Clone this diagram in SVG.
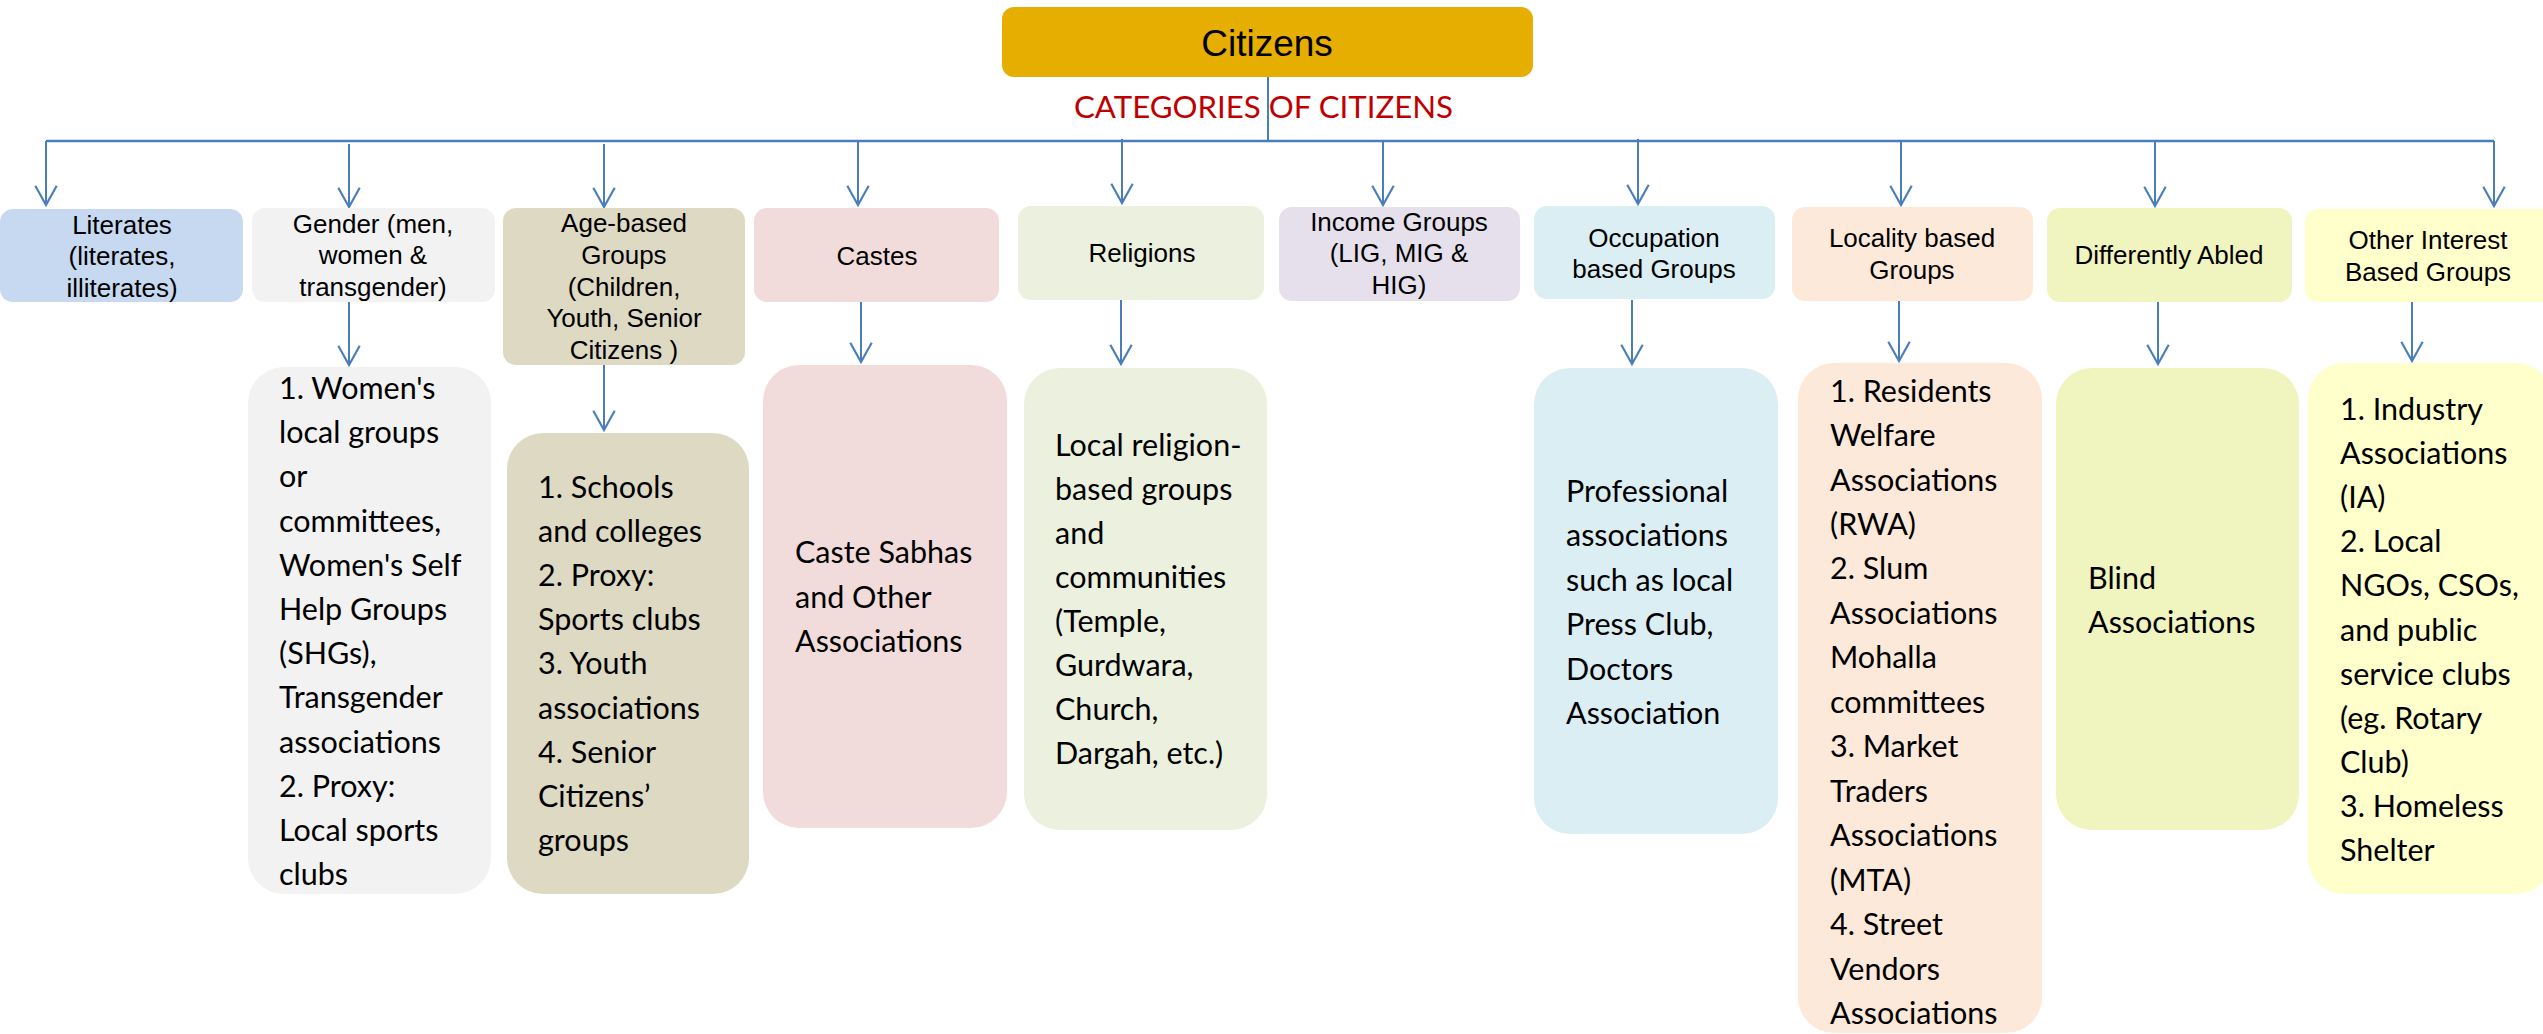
<svg xmlns="http://www.w3.org/2000/svg" width="2543" height="1034" viewBox="0 0 2543 1034">
<style>
.top{font-family:"Liberation Sans",Arial,sans-serif;font-size:26px;fill:#000;text-anchor:middle}
.sub{font-family:Lato,"Open Sans",sans-serif;font-size:30.5px;fill:#000}
.conn{stroke:#4A7EBB;stroke-width:2;fill:none}
.bus{stroke:#4A7EBB;stroke-width:2.5;fill:none}
</style>
<defs>
<marker id="ah" markerUnits="userSpaceOnUse" markerWidth="30" markerHeight="30" viewBox="-22 -14 26 28" refX="0" refY="0" orient="auto" overflow="visible">
<path d="M-18,-10 L0,0 L-18,10" fill="none" stroke="#4A7EBB" stroke-width="2"/>
</marker>
</defs>
<rect width="2543" height="1034" fill="#fff"/>

<g id="connectors">
<line class="conn" x1="1268" y1="77" x2="1268" y2="141"/>
<line class="bus" x1="46" y1="141" x2="2494" y2="141"/>
<line class="conn" x1="46" y1="141" x2="46" y2="205" marker-end="url(#ah)"/>
<line class="conn" x1="349" y1="144" x2="349" y2="207" marker-end="url(#ah)"/>
<line class="conn" x1="604" y1="144" x2="604" y2="207" marker-end="url(#ah)"/>
<line class="conn" x1="858" y1="142" x2="858" y2="205" marker-end="url(#ah)"/>
<line class="conn" x1="1122" y1="139" x2="1122" y2="203" marker-end="url(#ah)"/>
<line class="conn" x1="1383" y1="142" x2="1383" y2="205" marker-end="url(#ah)"/>
<line class="conn" x1="1638" y1="139" x2="1638" y2="204" marker-end="url(#ah)"/>
<line class="conn" x1="1901" y1="142" x2="1901" y2="205" marker-end="url(#ah)"/>
<line class="conn" x1="2155" y1="142" x2="2155" y2="206" marker-end="url(#ah)"/>
<line class="conn" x1="2494" y1="141" x2="2494" y2="206" marker-end="url(#ah)"/>

<line class="conn" x1="349" y1="302" x2="349" y2="365" marker-end="url(#ah)"/>
<line class="conn" x1="604" y1="365" x2="604" y2="430" marker-end="url(#ah)"/>
<line class="conn" x1="861" y1="300" x2="861" y2="362" marker-end="url(#ah)"/>
<line class="conn" x1="1121" y1="300" x2="1121" y2="364" marker-end="url(#ah)"/>
<line class="conn" x1="1632" y1="300" x2="1632" y2="364" marker-end="url(#ah)"/>
<line class="conn" x1="1899" y1="301" x2="1899" y2="361" marker-end="url(#ah)"/>
<line class="conn" x1="2158" y1="302" x2="2158" y2="364" marker-end="url(#ah)"/>
<line class="conn" x1="2412" y1="302" x2="2412" y2="361" marker-end="url(#ah)"/>
</g>

<g id="citizens">
<rect x="1002" y="7" width="531" height="70" rx="12" fill="#E6AE00"/>
<text x="1267" y="56" style="font-family:'Liberation Sans',Arial,sans-serif;font-size:37px;text-anchor:middle">Citizens</text>
</g>
<text id="categories-label" x="1074" y="118" textLength="379" lengthAdjust="spacingAndGlyphs" style="font-family:Lato,'Open Sans',sans-serif;font-size:31px;fill:#C00000">CATEGORIES OF CITIZENS</text>

<g id="literates">
<rect x="0" y="209" width="243" height="93" rx="13" fill="#C6D9F1"/>
<text class="top"><tspan x="122" y="234">Literates</tspan><tspan x="122" y="265">(literates,</tspan><tspan x="122" y="297">illiterates)</tspan></text>
</g>
<g id="gender">
<rect x="252" y="208" width="243" height="94" rx="13" fill="#F2F2F2"/>
<text class="top"><tspan x="373" y="233">Gender (men,</tspan><tspan x="373" y="264">women &amp;</tspan><tspan x="373" y="296">transgender)</tspan></text>
</g>
<g id="age">
<rect x="503" y="208" width="242" height="157" rx="13" fill="#DDD9C3"/>
<text class="top"><tspan x="624" y="232">Age-based</tspan><tspan x="624" y="264">Groups</tspan><tspan x="624" y="296">(Children,</tspan><tspan x="624" y="327">Youth, Senior</tspan><tspan x="624" y="359">Citizens )</tspan></text>
</g>
<g id="castes">
<rect x="754" y="208" width="245" height="94" rx="13" fill="#F2DCDB"/>
<text class="top" x="877" y="265">Castes</text>
</g>
<g id="religions">
<rect x="1018" y="206" width="246" height="94" rx="13" fill="#EBF1DE"/>
<text class="top" x="1142" y="262">Religions</text>
</g>
<g id="income">
<rect x="1279" y="207" width="241" height="94" rx="13" fill="#E5E0EC"/>
<text class="top"><tspan x="1399" y="231">Income Groups</tspan><tspan x="1399" y="262">(LIG, MIG &amp;</tspan><tspan x="1399" y="294">HIG)</tspan></text>
</g>
<g id="occupation">
<rect x="1534" y="206" width="241" height="93" rx="13" fill="#DBEEF4"/>
<text class="top"><tspan x="1654" y="247">Occupation</tspan><tspan x="1654" y="278">based Groups</tspan></text>
</g>
<g id="locality">
<rect x="1792" y="207" width="241" height="94" rx="13" fill="#FDE9D9"/>
<text class="top"><tspan x="1912" y="247">Locality based</tspan><tspan x="1912" y="279">Groups</tspan></text>
</g>
<g id="differently-abled">
<rect x="2047" y="208" width="245" height="94" rx="13" fill="#F0F4BF"/>
<text class="top" x="2169" y="264">Differently Abled</text>
</g>
<g id="other-interest">
<rect x="2305" y="209" width="250" height="93" rx="13" fill="#FFFFCC"/>
<text class="top"><tspan x="2428" y="249">Other Interest</tspan><tspan x="2428" y="281">Based Groups</tspan></text>
</g>

<g id="gender-groups">
<rect x="248" y="367" width="243" height="527" rx="36" fill="#F2F2F2"/>
<text class="sub"><tspan x="279" y="399">1. Women's</tspan><tspan x="279" dy="44.2">local groups</tspan><tspan x="279" dy="44.2">or</tspan><tspan x="279" dy="44.2">committees,</tspan><tspan x="279" dy="44.2">Women's Self</tspan><tspan x="279" dy="44.2">Help Groups</tspan><tspan x="279" dy="44.2">(SHGs),</tspan><tspan x="279" dy="44.2">Transgender</tspan><tspan x="279" dy="44.2">associations</tspan><tspan x="279" dy="44.2">2. Proxy:</tspan><tspan x="279" dy="44.2">Local sports</tspan><tspan x="279" dy="44.2">clubs</tspan></text>
</g>
<g id="age-groups">
<rect x="507" y="433" width="242" height="461" rx="36" fill="#DDD9C3"/>
<text class="sub"><tspan x="538" y="498">1. Schools</tspan><tspan x="538" dy="44.1">and colleges</tspan><tspan x="538" dy="44.1">2. Proxy:</tspan><tspan x="538" dy="44.1">Sports clubs</tspan><tspan x="538" dy="44.1">3. Youth</tspan><tspan x="538" dy="44.1">associations</tspan><tspan x="538" dy="44.1">4. Senior</tspan><tspan x="538" dy="44.1">Citizens’</tspan><tspan x="538" dy="44.1">groups</tspan></text>
</g>
<g id="caste-groups">
<rect x="763" y="365" width="244" height="463" rx="36" fill="#F2DCDB"/>
<text class="sub"><tspan x="795" y="563">Caste Sabhas</tspan><tspan x="795" dy="44.5">and Other</tspan><tspan x="795" dy="44.5">Associations</tspan></text>
</g>
<g id="religion-groups">
<rect x="1024" y="368" width="243" height="462" rx="36" fill="#EBF1DE"/>
<text class="sub"><tspan x="1055" y="456">Local religion-</tspan><tspan x="1055" dy="44">based groups</tspan><tspan x="1055" dy="44">and</tspan><tspan x="1055" dy="44">communities</tspan><tspan x="1055" dy="44">(Temple,</tspan><tspan x="1055" dy="44">Gurdwara,</tspan><tspan x="1055" dy="44">Church,</tspan><tspan x="1055" dy="44">Dargah, etc.)</tspan></text>
</g>
<g id="occupation-groups">
<rect x="1534" y="368" width="244" height="466" rx="36" fill="#DBEEF4"/>
<text class="sub"><tspan x="1566" y="502">Professional</tspan><tspan x="1566" dy="44.4">associations</tspan><tspan x="1566" dy="44.4">such as local</tspan><tspan x="1566" dy="44.4">Press Club,</tspan><tspan x="1566" dy="44.4">Doctors</tspan><tspan x="1566" dy="44.4">Association</tspan></text>
</g>
<g id="locality-groups">
<rect x="1798" y="363" width="244" height="670" rx="36" fill="#FDE9D9"/>
<text class="sub"><tspan x="1830" y="401.6">1. Residents</tspan><tspan x="1830" dy="44.46">Welfare</tspan><tspan x="1830" dy="44.46">Associations</tspan><tspan x="1830" dy="44.46">(RWA)</tspan><tspan x="1830" dy="44.46">2. Slum</tspan><tspan x="1830" dy="44.46">Associations</tspan><tspan x="1830" dy="44.46">Mohalla</tspan><tspan x="1830" dy="44.46">committees</tspan><tspan x="1830" dy="44.46">3. Market</tspan><tspan x="1830" dy="44.46">Traders</tspan><tspan x="1830" dy="44.46">Associations</tspan><tspan x="1830" dy="44.46">(MTA)</tspan><tspan x="1830" dy="44.46">4. Street</tspan><tspan x="1830" dy="44.46">Vendors</tspan><tspan x="1830" dy="44.46">Associations</tspan></text>
</g>
<g id="disability-groups">
<rect x="2056" y="368" width="243" height="462" rx="36" fill="#F0F4BF"/>
<text class="sub"><tspan x="2088" y="589">Blind</tspan><tspan x="2088" dy="44">Associations</tspan></text>
</g>
<g id="other-groups">
<rect x="2308" y="363" width="244" height="531" rx="36" fill="#FFFFCC"/>
<text class="sub"><tspan x="2340" y="420">1. Industry</tspan><tspan x="2340" dy="44.1">Associations</tspan><tspan x="2340" dy="44.1">(IA)</tspan><tspan x="2340" dy="44.1">2. Local</tspan><tspan x="2340" dy="44.1">NGOs, CSOs,</tspan><tspan x="2340" dy="44.1">and public</tspan><tspan x="2340" dy="44.1">service clubs</tspan><tspan x="2340" dy="44.1">(eg. Rotary</tspan><tspan x="2340" dy="44.1">Club)</tspan><tspan x="2340" dy="44.1">3. Homeless</tspan><tspan x="2340" dy="44.1">Shelter</tspan></text>
</g>
</svg>
